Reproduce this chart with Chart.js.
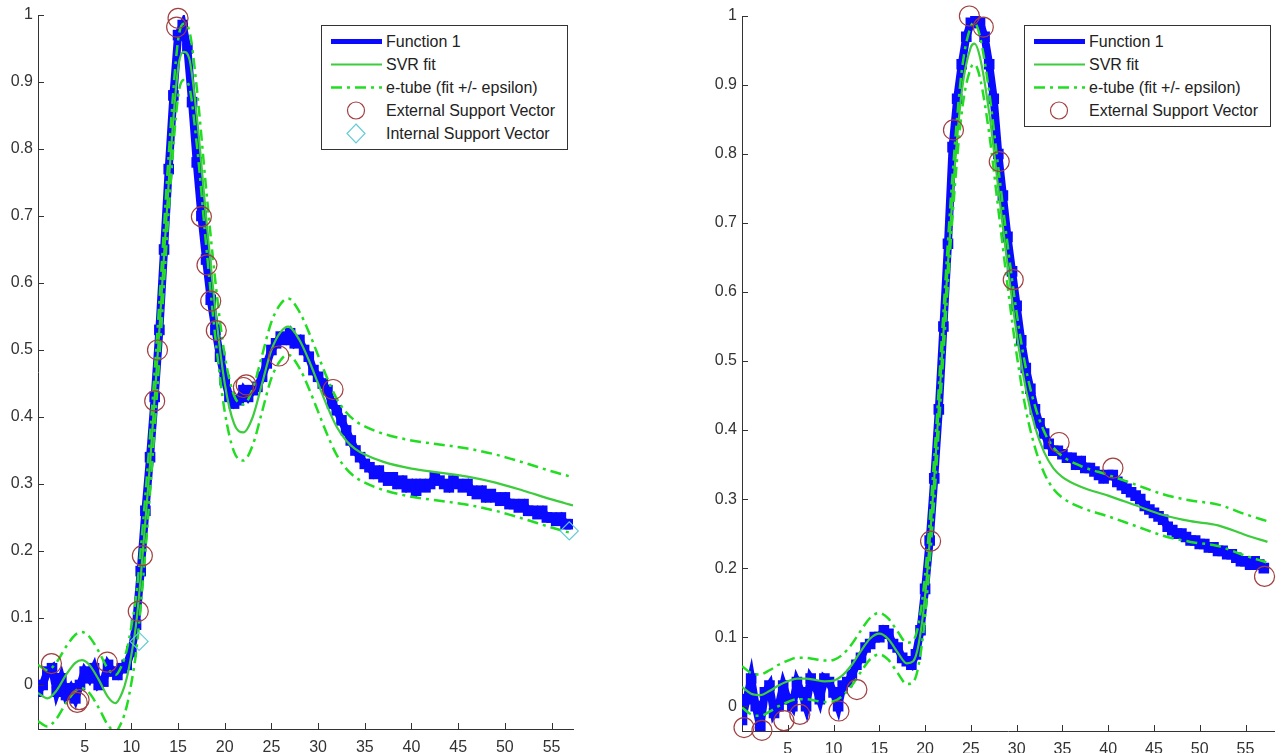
<!DOCTYPE html>
<html>
<head>
<meta charset="utf-8">
<script src="https://cdn.jsdelivr.net/npm/chart.js@4.4.0/dist/chart.umd.min.js"></script>
<style>
  html, body { margin: 0; padding: 0; background: #fff; }
  body { width: 1286px; height: 753px; position: relative; overflow: hidden; font-family: "Liberation Sans", Arial, sans-serif; }
  canvas { position: absolute; top: 0; }
  .legend { position: absolute; top: 25px; width: 245px; background: #fff; border: 1px solid #333; padding: 4px 0; }
  .legend .row { height: 23px; display: flex; align-items: center; font-size: 16px; color: #222; white-space: nowrap; }
  .legend svg { margin-left: 9px; margin-right: 4px; flex: none; }
</style>
</head>
<body>
<canvas id="leftChart" width="600" height="753" style="left:0"></canvas>
<canvas id="rightChart" width="586" height="753" style="left:700px"></canvas>

<div class="legend" id="leftLegend" style="left:321px"></div>
<div class="legend" id="rightLegend" style="left:1024px"></div>

<script>
// axis ticks (same on both panels)
const xTicks = [5, 10, 15, 20, 25, 30, 35, 40, 45, 50, 55];
const yTicks = [0, 0.1, 0.2, 0.3, 0.4, 0.5, 0.6, 0.7, 0.8, 0.9, 1];
const yTickLabels = ['0', '0.1', '0.2', '0.3', '0.4', '0.5', '0.6', '0.7', '0.8', '0.9', '1'];

// sample positions of the measured function
const fnX = [0,0.5,1,1.5,2,2.5,3,3.5,4,4.5,5,5.5,6,6.5,7,7.5,8,8.5,9,9.5,
  10,10.5,11,11.5,12,12.5,13,13.5,14,14.5,15,15.5,16,16.5,17,17.5,18,18.5,19,19.5,
  20,20.5,21,21.5,22,22.5,23,23.5,24,24.5,25,25.5,26,26.5,27,27.5,28,28.5,29,29.5,
  30,30.5,31,31.5,32,32.5,33,33.5,34,34.5,35,35.5,36,36.5,37,37.5,38,38.5,39,39.5,
  40,40.5,41,41.5,42,42.5,43,43.5,44,44.5,45,45.5,46,46.5,47,47.5,48,48.5,49,49.5,
  50,50.5,51,51.5,52,52.5,53,53.5,54,54.5,55,55.5,56,56.5,57];

// left panel
const leftFnY = [-0.01,0,0.02,0.025,-0.01,0.01,-0.015,-0.005,-0.02,0,0.02,0.01,0.025,0,0.005,0.03,0.02,0.015,0.025,0.03,
  0.05,0.09,0.17,0.26,0.34,0.43,0.53,0.65,0.77,0.88,0.97,0.985,0.95,0.87,0.78,0.7,0.635,0.575,0.53,0.49,
  0.455,0.43,0.42,0.425,0.44,0.43,0.44,0.445,0.46,0.48,0.5,0.51,0.52,0.515,0.525,0.51,0.515,0.5,0.49,0.47,
  0.46,0.45,0.44,0.42,0.41,0.395,0.38,0.365,0.35,0.34,0.33,0.325,0.315,0.32,0.31,0.305,0.31,0.3,0.305,0.295,
  0.3,0.29,0.3,0.295,0.3,0.31,0.305,0.3,0.295,0.305,0.3,0.295,0.3,0.29,0.285,0.29,0.28,0.285,0.28,0.275,
  0.28,0.27,0.27,0.265,0.27,0.26,0.26,0.255,0.26,0.25,0.25,0.245,0.25,0.24,0.24];
const leftFitX = [0,1,2,3,4,4.7,5.5,6.5,7.5,8.3,9,9.5,10,10.5,11,12,13,14,15,15.6,16.2,17,18,19,20,
  21,22,23,24,25,26,26.8,28,29,30,31,32,33,34,35,37,40,43,46,49,52,55,57.3];
const leftFitY = [-0.012,-0.02,-0.008,0.015,0.033,0.037,0.03,0.008,-0.018,-0.027,-0.012,0.01,0.045,0.09,0.16,
  0.33,0.53,0.75,0.92,0.945,0.935,0.85,0.7,0.56,0.45,0.39,0.377,0.4,0.45,0.5,0.527,0.535,0.515,0.485,0.45,
  0.415,0.385,0.365,0.352,0.344,0.333,0.323,0.317,0.311,0.302,0.29,0.277,0.268];
const leftUpperY = [0.03,0.022,0.034,0.057,0.075,0.079,0.072,0.05,0.024,0.015,0.03,0.052,0.087,0.132,0.202,
  0.372,0.572,0.792,0.962,0.987,0.977,0.892,0.742,0.602,0.492,0.432,0.419,0.442,0.492,0.542,0.569,0.577,0.557,0.527,0.492,
  0.457,0.427,0.407,0.394,0.386,0.375,0.365,0.359,0.353,0.344,0.332,0.319,0.31];
const leftLowerY = [-0.054,-0.062,-0.05,-0.027,-0.009,-0.005,-0.012,-0.034,-0.06,-0.069,-0.054,-0.032,0.003,0.048,0.118,
  0.288,0.488,0.708,0.878,0.903,0.893,0.808,0.658,0.518,0.408,0.348,0.335,0.358,0.408,0.458,0.485,0.493,0.473,0.443,0.408,
  0.373,0.343,0.323,0.31,0.302,0.291,0.281,0.275,0.269,0.26,0.248,0.235,0.226];
const leftExtX = [1.44,4.2,4.4,7.42,10.74,11.18,12.5,12.8,14.85,15.0,17.5,18.1,18.5,19.1,22.0,22.3,25.8,31.6];
const leftExtY = [0.032,-0.026,-0.022,0.034,0.11,0.193,0.424,0.5,0.982,0.995,0.699,0.627,0.573,0.529,0.444,0.448,0.491,0.441];
const leftIntX = [10.83, 56.9];
const leftIntY = [0.065, 0.23];

// right panel
const rightFnY = [-0.02,0.01,0.04,0,-0.03,0.02,0.03,-0.01,0,0.03,0.01,0,0.035,0.02,0,0.04,0.03,0.01,0.04,0.035,
  0.02,0,0.03,0.035,0.045,0.06,0.07,0.085,0.09,0.1,0.1,0.11,0.105,0.09,0.085,0.07,0.065,0.06,0.075,0.11,
  0.17,0.24,0.33,0.43,0.55,0.67,0.81,0.88,0.93,0.97,0.99,0.995,0.99,0.97,0.93,0.88,0.8,0.74,0.68,0.63,
  0.58,0.53,0.49,0.46,0.43,0.41,0.395,0.38,0.37,0.37,0.365,0.36,0.36,0.35,0.355,0.345,0.345,0.34,0.335,0.33,
  0.335,0.335,0.325,0.32,0.315,0.31,0.305,0.3,0.29,0.285,0.28,0.275,0.27,0.26,0.255,0.25,0.25,0.245,0.24,0.24,
  0.235,0.235,0.23,0.23,0.225,0.225,0.22,0.22,0.215,0.21,0.21,0.205,0.21,0.205,0.2];
const rightFitX = [0,1,2,3,4,5,6,7,8,9,10,11,12,13,14,15,16,17,18,18.7,19.3,20,21,22,23,24,25,25.4,
  26,27,28,29,30,31,32,33,34,35,37,40,43,46,49,52,55,57.4];
const rightFitY = [0.028,0.018,0.016,0.022,0.03,0.036,0.04,0.04,0.038,0.036,0.037,0.045,0.06,0.08,0.098,
  0.105,0.097,0.078,0.062,0.065,0.09,0.16,0.33,0.54,0.74,0.89,0.955,0.96,
  0.94,0.86,0.75,0.64,0.54,0.46,0.405,0.368,0.345,0.332,0.318,0.305,0.291,0.277,0.268,0.262,0.248,0.238];
const rightUpperY = [0.058,0.048,0.046,0.052,0.06,0.066,0.07,0.07,0.068,0.066,0.067,0.075,0.09,0.11,0.128,
  0.135,0.127,0.108,0.092,0.095,0.12,0.19,0.36,0.57,0.77,0.92,0.985,0.99,
  0.97,0.89,0.78,0.67,0.57,0.49,0.435,0.398,0.375,0.362,0.348,0.335,0.321,0.307,0.298,0.292,0.278,0.268];
const rightLowerY = [-0.002,-0.012,-0.014,-0.008,0,0.006,0.01,0.01,0.008,0.006,0.007,0.015,0.03,0.05,0.068,
  0.075,0.067,0.048,0.032,0.035,0.06,0.13,0.3,0.51,0.71,0.86,0.925,0.93,
  0.91,0.83,0.72,0.61,0.51,0.43,0.375,0.338,0.315,0.302,0.288,0.275,0.261,0.247,0.238,0.232,0.218,0.208];
const rightExtX = [0.22,2.18,4.58,6.32,10.59,12.55,20.6,23.1,24.84,26.36,28.1,29.63,34.64,40.52,57.08];
const rightExtY = [-0.031,-0.035,-0.021,-0.012,-0.007,0.024,0.239,0.835,1.0,0.984,0.789,0.618,0.382,0.345,0.188];

const blue = '#0a0aff';
const fitGreen = '#3ccc3c';
const tubeGreen = '#22dd22';
const svRed = '#a04040';
const svCyan = '#66ccd6';
const tubeDash = [11, 5, 3, 5];

Chart.defaults.font.family = '"Liberation Sans", Arial, sans-serif';
Chart.defaults.font.size = 16;
Chart.defaults.color = '#333';

function pts(xs, ys) {
  return xs.map((x, i) => ({ x: x, y: ys[i] }));
}

// MATLAB style tick marks pointing into the plot
const inwardTicks = {
  id: 'inwardTicks',
  afterDraw(chart) {
    const { ctx, chartArea, scales } = chart;
    ctx.save();
    ctx.strokeStyle = '#333';
    ctx.lineWidth = 1;
    ctx.beginPath();
    scales.x.ticks.forEach(t => {
      const px = Math.round(scales.x.getPixelForValue(t.value)) + 0.5;
      ctx.moveTo(px, chartArea.bottom);
      ctx.lineTo(px, chartArea.bottom - 6);
    });
    scales.y.ticks.forEach(t => {
      const py = Math.round(scales.y.getPixelForValue(t.value)) + 0.5;
      ctx.moveTo(chartArea.left, py);
      ctx.lineTo(chartArea.left + 6, py);
    });
    ctx.stroke();
    ctx.restore();
  }
};

function makeChart(id, p) {
  const ctx = document.getElementById(id).getContext('2d');
  const datasets = [
    {
      label: 'External Support Vector',
      data: pts(p.extX, p.extY),
      showLine: false,
      pointStyle: 'circle',
      pointRadius: 10,
      borderColor: svRed,
      backgroundColor: 'rgba(0,0,0,0)',
      pointBorderWidth: 1.2,
      clip: false,
      order: 0
    },
    {
      label: 'e-tube upper',
      data: pts(p.fitX, p.upperY),
      showLine: true,
      borderColor: tubeGreen,
      borderWidth: 2.5,
      borderDash: tubeDash,
      pointRadius: 0,
      cubicInterpolationMode: 'monotone',
      order: 1
    },
    {
      label: 'e-tube lower',
      data: pts(p.fitX, p.lowerY),
      showLine: true,
      borderColor: tubeGreen,
      borderWidth: 2.5,
      borderDash: tubeDash,
      pointRadius: 0,
      cubicInterpolationMode: 'monotone',
      order: 1
    },
    {
      label: 'SVR fit',
      data: pts(p.fitX, p.fitY),
      showLine: true,
      borderColor: fitGreen,
      borderWidth: 2.2,
      pointRadius: 0,
      cubicInterpolationMode: 'monotone',
      order: 2
    },
    {
      label: 'Function 1',
      data: pts(fnX, p.fnY),
      showLine: true,
      borderColor: blue,
      backgroundColor: blue,
      borderWidth: 8,
      pointStyle: 'rect',
      pointRadius: 7.5,
      pointBorderWidth: 0,
      order: 3
    }
  ];
  if (p.intX) {
    datasets.unshift({
      label: 'Internal Support Vector',
      data: pts(p.intX, p.intY),
      showLine: false,
      pointStyle: 'rectRot',
      pointRadius: 9,
      borderColor: svCyan,
      backgroundColor: 'rgba(0,0,0,0)',
      pointBorderWidth: 1.2,
      clip: false,
      order: 0
    });
  }

  return new Chart(ctx, {
    type: 'scatter',
    data: { datasets: datasets },
    options: {
      responsive: false,
      animation: false,
      layout: { padding: p.padding },
      plugins: {
        legend: { display: false },
        tooltip: { enabled: false }
      },
      scales: {
        x: {
          type: 'linear',
          min: 0,
          max: p.xMax,
          afterBuildTicks: s => { s.ticks = xTicks.map(v => ({ value: v })); },
          afterFit: s => { s.height = p.xHeight; },
          grid: { drawOnChartArea: false, drawTicks: false },
          border: { color: '#333', width: 1 },
          ticks: { padding: 9, maxRotation: 0, autoSkip: false, color: '#333' }
        },
        y: {
          type: 'linear',
          min: p.yMin,
          max: 1,
          afterBuildTicks: s => { s.ticks = yTicks.map(v => ({ value: v })); },
          afterFit: s => { s.width = p.yWidth; },
          grid: { drawOnChartArea: false, drawTicks: false },
          border: { color: '#333', width: 1 },
          ticks: {
            padding: 5,
            autoSkip: false,
            color: '#333',
            callback: (v, i) => yTickLabels[i]
          }
        }
      }
    },
    plugins: [inwardTicks]
  });
}

makeChart('leftChart', {
  fnY: leftFnY, fitX: leftFitX, fitY: leftFitY, upperY: leftUpperY, lowerY: leftLowerY,
  extX: leftExtX, extY: leftExtY, intX: leftIntX, intY: leftIntY,
  xMax: 57.3, yMin: -0.0657,
  padding: { top: 15, right: 27, bottom: 0, left: 0 }, yWidth: 38, xHeight: 24
});

makeChart('rightChart', {
  fnY: rightFnY, fitX: rightFitX, fitY: rightFitY, upperY: rightUpperY, lowerY: rightLowerY,
  extX: rightExtX, extY: rightExtY,
  xMax: 58.2, yMin: -0.036,
  padding: { top: 16, right: 0, bottom: 0, left: 0 }, yWidth: 42, xHeight: 22
});

// legends
const legendRows = [
  { key: 'fn', text: 'Function 1' },
  { key: 'fit', text: 'SVR fit' },
  { key: 'tube', text: 'e-tube (fit +/- epsilon)' },
  { key: 'ext', text: 'External Support Vector' },
  { key: 'int', text: 'Internal Support Vector' }
];

function sample(key) {
  const w = 51, h = 23, m = 11.5;
  let inner = '';
  if (key === 'fn') inner = `<line x1="0" y1="${m}" x2="${w}" y2="${m}" stroke="${blue}" stroke-width="5"/>`;
  if (key === 'fit') inner = `<line x1="0" y1="${m}" x2="${w}" y2="${m}" stroke="${fitGreen}" stroke-width="2"/>`;
  if (key === 'tube') inner = `<line x1="0" y1="${m}" x2="${w}" y2="${m}" stroke="${tubeGreen}" stroke-width="2.5" stroke-dasharray="${tubeDash.join(' ')}"/>`;
  if (key === 'ext') inner = `<circle cx="25" cy="${m}" r="8.5" fill="none" stroke="${svRed}" stroke-width="1.2"/>`;
  if (key === 'int') inner = `<polygon points="25,2 34,${m} 25,21 16,${m}" fill="none" stroke="${svCyan}" stroke-width="1.2"/>`;
  return `<svg width="${w}" height="${h}" viewBox="0 0 ${w} ${h}">${inner}</svg>`;
}

function buildLegend(id, keys) {
  const el = document.getElementById(id);
  el.innerHTML = legendRows
    .filter(r => keys.includes(r.key))
    .map(r => `<div class="row">${sample(r.key)}<span>${r.text}</span></div>`)
    .join('');
}

buildLegend('leftLegend', ['fn', 'fit', 'tube', 'ext', 'int']);
buildLegend('rightLegend', ['fn', 'fit', 'tube', 'ext']);
</script>
</body>
</html>
